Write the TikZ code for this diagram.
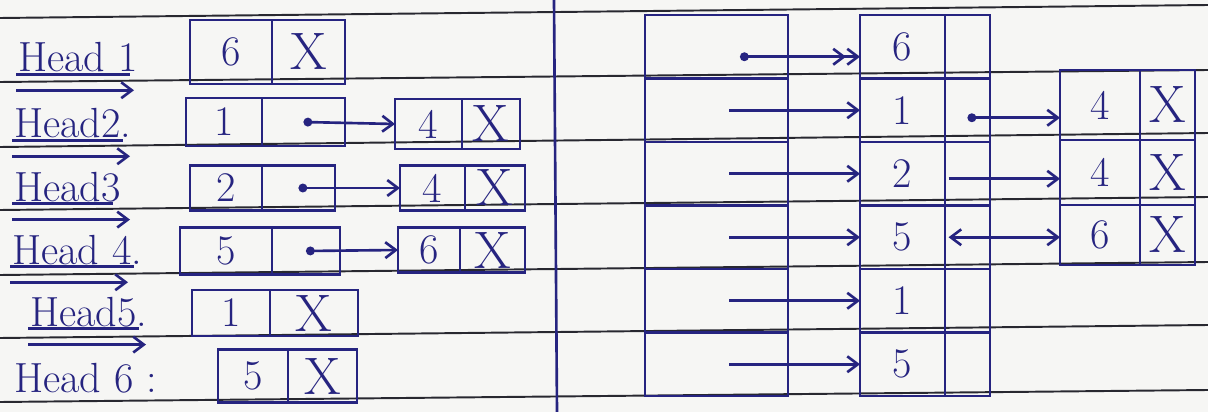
\documentclass[tikz,border=0pt]{standalone}
\usepackage{tikz}
\usetikzlibrary{arrows.meta, positioning}
\definecolor{inkBlue}{RGB}{38,36,128}
\definecolor{ruleGray}{RGB}{40,40,48}
\definecolor{paperBg}{RGB}{246,246,244}
\tikzset{
  cell/.style={rectangle, draw=inkBlue, line width=1.5pt, inner sep=0pt, outer sep=0pt,
    text=inkBlue, font=\fontsize{24}{28}\selectfont},
  valC/.style={cell},
  ptrC/.style={cell},
  nilC/.style={cell, font=\fontsize{30}{32}\selectfont},
  slotC/.style={cell, minimum width=2.86cm, minimum height=1.27cm},
  headL/.style={text=inkBlue, inner sep=1pt, anchor=base west, font=\fontsize{24}{28}\selectfont},
  ink/.style={draw=inkBlue, line width=1.5pt},
  ruleLn/.style={draw=ruleGray, line width=1.1pt},
  arr/.style={-{Straight Barb[length=6pt,width=9pt]}, draw=inkBlue, line width=1.5pt},
  dotarr/.style={arr, {Circle[length=5pt]}-{Straight Barb[length=6pt,width=9pt]}},
  dblarr/.style={arr, {Circle[length=5pt]}-{Straight Barb[length=6pt,width=9pt] Straight Barb[length=6pt,width=9pt]}},
  twoarr/.style={arr, {Straight Barb[length=6pt,width=9pt]}-{Straight Barb[length=6pt,width=9pt]}},
}
\begin{document}
\begin{tikzpicture}[x=0.02cm, y=-0.02cm]
\fill[paperBg] (0,0) rectangle (1208,412);
\useasboundingbox (0,0) rectangle (1208,412);

\foreach \ya/\yb in {18/5, 82/70, 147/133, 210/197, 275/262, 338/325, 402/390}
  \draw[ruleLn] (0,\ya) -- (1208,\yb);
\draw[ink] (554,0) -- (557,412);

% head labels
\node[headL] (hd1) at (16,72) {Head 1};
\node[headL] (hd2) at (12,138) {Head2.};
\node[headL] (hd3) at (12,201) {Head3};
\node[headL] (hd4) at (10,264) {Head 4.};
\node[headL] (hd5) at (28,326) {Head5.};
\node[headL] (hd6) at (12,392) {Head 6 :};
\foreach \h in {1,...,5} {
  \draw[ink] (hd\h.south west) -- ([xshift=-0.2cm]hd\h.south east);
  \draw[arr] ([yshift=-9pt]hd\h.south west) -- ++(118,0);
}

% lists
\node[valC, minimum width=1.64cm, minimum height=1.28cm] (h1v) at (231,52) {6};
\node[nilC, right=0pt of h1v, minimum width=1.46cm, minimum height=1.28cm] (h1n) {X};

\node[valC, minimum width=1.52cm, minimum height=0.96cm] (h2v) at (224,122) {1};
\node[ptrC, right=0pt of h2v, minimum width=1.66cm, minimum height=0.96cm] (h2p) {};
\node[valC, minimum width=1.34cm, minimum height=1.0cm] (n2v) at (428.5,124) {4};
\node[nilC, right=0pt of n2v, minimum width=1.16cm, minimum height=1.0cm] (n2n) {X};
\draw[dotarr] (h2p.center) -- (n2v.west);

\node[valC, minimum width=1.44cm, minimum height=0.9cm] (h3v) at (226,188) {2};
\node[ptrC, right=0pt of h3v, minimum width=1.46cm, minimum height=0.9cm] (h3p) {};
\node[valC, minimum width=1.3cm, minimum height=0.9cm] (n3v) at (432.5,188) {4};
\node[nilC, right=0pt of n3v, minimum width=1.2cm, minimum height=0.9cm] (n3n) {X};
\draw[dotarr] (h3p.center) -- (n3v.west);

\node[valC, minimum width=1.84cm, minimum height=0.94cm] (h4v) at (226,251) {5};
\node[ptrC, right=0pt of h4v, minimum width=1.36cm, minimum height=0.94cm] (h4p) {};
\node[valC, minimum width=1.24cm, minimum height=0.9cm] (n4v) at (429,250) {6};
\node[nilC, right=0pt of n4v, minimum width=1.3cm, minimum height=0.9cm] (n4n) {X};
\draw[dotarr] (h4p.center) -- (n4v.west);

\node[valC, minimum width=1.56cm, minimum height=0.92cm] (h5v) at (231,313) {1};
\node[nilC, right=0pt of h5v, minimum width=1.76cm, minimum height=0.92cm] (h5n) {X};

\node[valC, minimum width=1.4cm, minimum height=1.06cm] (h6v) at (253,376) {5};
\node[nilC, right=0pt of h6v, minimum width=1.38cm, minimum height=1.06cm] (h6n) {X};

% array of heads
\foreach \v [count=\i] in {6,1,2,5,1,5} {
  \node[slotC] (a\i) at (716.5, {15+63.5*(\i-0.5)}) {};
  \node[valC, minimum width=1.7cm, minimum height=1.27cm] (m\i) at (902.5, {15+63.5*(\i-0.5)}) {\v};
  \node[ptrC, right=0pt of m\i, minimum width=0.9cm, minimum height=1.27cm] (q\i) {};
}
\draw[dblarr] ([xshift=0.47cm, yshift=-0.2cm]a1.center) -- ([yshift=-0.2cm]m1.west);
\foreach \i in {2,...,6}
  \draw[arr] ([xshift=0.25cm]a\i.center) -- (m\i.west);

\node[valC, minimum width=1.6cm, minimum height=1.4cm] (r1v) at (1100,105) {4};
\node[nilC, right=0pt of r1v, minimum width=1.1cm, minimum height=1.4cm] (r1n) {X};
\node[valC, below=0pt of r1v, minimum width=1.6cm, minimum height=1.3cm] (r2v) {4};
\node[nilC, right=0pt of r2v, minimum width=1.1cm, minimum height=1.3cm] (r2n) {X};
\node[valC, below=0pt of r2v, minimum width=1.6cm, minimum height=1.2cm] (r3v) {6};
\node[nilC, right=0pt of r3v, minimum width=1.1cm, minimum height=1.2cm] (r3n) {X};

\draw[dotarr] ([yshift=-0.15cm]q2.center) -- ([yshift=-0.15cm]q2.center -| r1v.west);
\draw[arr] ([xshift=2pt, yshift=-0.1cm]q3.west) -- ([yshift=-0.1cm]q3.west -| r2v.west);
\draw[twoarr] ([xshift=2pt]q4.west) -- (q4.west -| r3v.west);

\end{tikzpicture}
\end{document}
